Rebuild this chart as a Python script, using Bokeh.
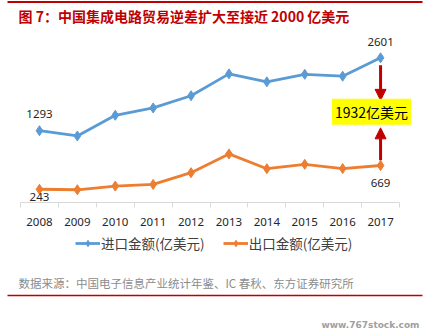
from bokeh.plotting import figure
from bokeh.models import (Label, Legend, LegendItem, Arrow, NormalHead, BoxAnnotation,
                          FixedTicker, Range1d)
from bokeh.core.properties import value
from bokeh.embed import file_html
from bokeh.resources import INLINE

years = ["2008", "2009", "2010", "2011", "2012", "2013", "2014", "2015", "2016", "2017"]
imports = [1293, 1199, 1570, 1702, 1920, 2313, 2170, 2305, 2271, 2601]
exports = [243, 234, 300, 330, 540, 877, 612, 690, 615, 669]
series_names = ["进口金额(亿美元)", "出口金额(亿美元)"]
title_text = "图 7：中国集成电路贸易逆差扩大至接近 2000 亿美元"
source_text = "数据来源：中国电子信息产业统计年鉴、IC 春秋、东方证券研究所"
watermark = "www.767stock.com"

BLUE = "#5B9BD5"
ORANGE = "#ED7D31"
RED = "#C00000"
CJK = "Noto Sans CJK SC"

n = len(years)
xs = [i + 0.5 for i in range(n)]

W, H = 431, 335
p = figure(width=W, height=H, x_range=Range1d(-0.528, n + 0.844), y_range=Range1d(-2380, 3629),
           output_backend="svg", toolbar_location=None, title=None,
           min_border=0)
p.outline_line_color = None
p.xgrid.visible = False
p.ygrid.visible = False
p.yaxis.visible = False

ax = p.xaxis[0]
ax.fixed_location = 0
ax.bounds = (0, n)
ax.ticker = FixedTicker(ticks=xs, minor_ticks=list(range(n + 1)))
ax.major_label_overrides = {x: y for x, y in zip(xs, years)}
ax.axis_line_color = "#D9D9D9"
ax.minor_tick_line_color = "#D9D9D9"
ax.minor_tick_out = 5
ax.minor_tick_in = 0
ax.major_tick_line_color = None
ax.major_tick_out = 0
ax.major_tick_in = 0
ax.major_label_standoff = 10
ax.major_label_text_font = "Noto Sans"
ax.major_label_text_font_size = "11.5px"
ax.major_label_text_color = "#262626"

l1 = p.line(xs, imports, color=BLUE, line_width=2.8)
m1 = p.scatter(xs, imports, marker="diamond", size=10, color=BLUE)
l2 = p.line(xs, exports, color=ORANGE, line_width=2.8)
m2 = p.scatter(xs, exports, marker="diamond", size=10, color=ORANGE)

p.text(x=[xs[0], xs[-1], xs[0], xs[-1]],
       y=[imports[0], imports[-1], exports[0], exports[-1]],
       text=[str(imports[0]), str(imports[-1]), str(exports[0]), str(exports[-1])],
       y_offset=[-17, -16, 8, 17],
       text_align="center", text_baseline="middle",
       text_font=value("Noto Sans"), text_font_size="11.5px", text_color="#262626")

gap = imports[-1] - exports[-1]
mid = (imports[-1] + exports[-1]) / 2
p.add_layout(Arrow(end=NormalHead(size=11, fill_color=RED, line_color=RED),
                   x_start=xs[-1], y_start=imports[-1] - 0.07 * gap,
                   x_end=xs[-1], y_end=mid + 0.105 * gap,
                   line_color=RED, line_width=3))
p.add_layout(Arrow(end=NormalHead(size=11, fill_color=RED, line_color=RED),
                   x_start=xs[-1], y_start=exports[-1] + 0.05 * gap,
                   x_end=xs[-1], y_end=mid - 0.15 * gap,
                   line_color=RED, line_width=3))
p.add_layout(Label(x=xs[-1] - 0.24, y=mid, text=f"{gap}亿美元", text_align="center",
                   text_baseline="middle", text_font=CJK, text_font_size="14px",
                   text_color="#000000", background_fill_color="#FFFF00", padding=3))

legend = Legend(items=[LegendItem(label=series_names[0], renderers=[l1, m1]),
                       LegendItem(label=series_names[1], renderers=[l2, m2])],
                orientation="horizontal", location=(75, 82), padding=0, margin=0,
                spacing=18, glyph_width=25, glyph_height=16, label_standoff=1,
                label_text_font=CJK, label_text_font_size="13.5px", label_text_color="#404040",
                border_line_color=None, background_fill_alpha=0)
p.add_layout(legend)

p.add_layout(Label(x=18, y=H - 15, x_units="screen", y_units="screen", text=title_text,
                   text_font=CJK, text_font_style="bold", text_font_size="14px",
                   text_color=RED, text_baseline="middle"))
p.add_layout(Label(x=18, y=H - 282, x_units="screen", y_units="screen", text=source_text,
                   text_font=CJK, text_font_size="11.5px", text_color="#8C8C8C",
                   text_baseline="middle"))
p.add_layout(Label(x=419, y=H - 324, x_units="screen", y_units="screen", text=watermark,
                   text_font="DejaVu Sans", text_font_style="bold", text_font_size="9px",
                   text_color="#A0A0A0", text_baseline="middle", text_align="right"))
p.add_layout(BoxAnnotation(left=7, right=422, top=H - 0.5, bottom=H - 2.5,
                           left_units="screen", right_units="screen",
                           top_units="screen", bottom_units="screen",
                           fill_color=RED, fill_alpha=1, line_color=None))
p.add_layout(BoxAnnotation(left=7, right=422, top=H - 294.3, bottom=H - 295.8,
                           left_units="screen", right_units="screen",
                           top_units="screen", bottom_units="screen",
                           fill_color=RED, fill_alpha=1, line_color=None))

open("out.html", "w").write(file_html(p, INLINE))
